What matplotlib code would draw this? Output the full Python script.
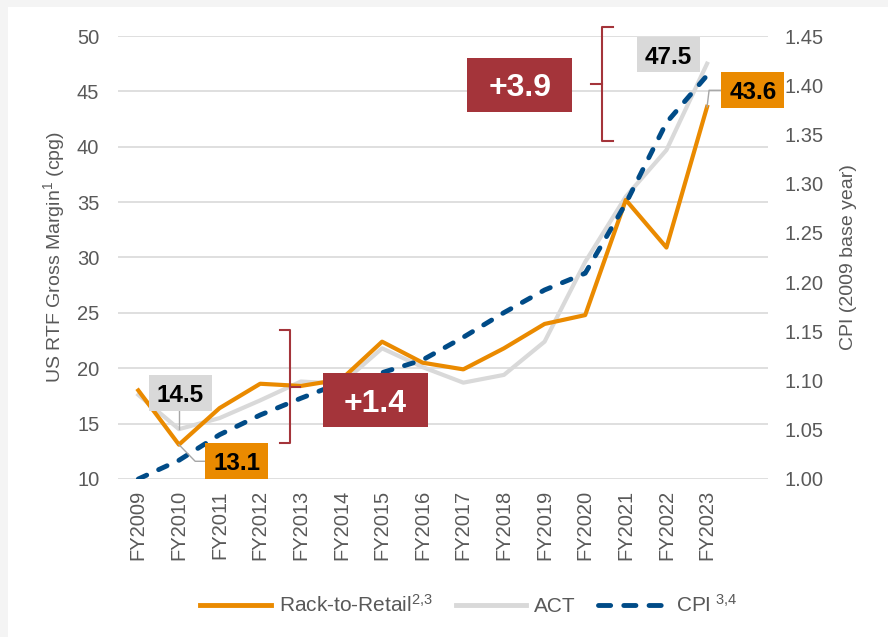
import matplotlib.pyplot as plt
from matplotlib.lines import Line2D
from matplotlib.patches import Rectangle

plt.rcParams['font.family'] = ['Liberation Sans', 'DejaVu Sans']
plt.rcParams['mathtext.fontset'] = 'custom'
plt.rcParams['mathtext.rm'] = 'Liberation Sans'
plt.rcParams['mathtext.it'] = 'Liberation Sans'

# Data
years = ['FY2009', 'FY2010', 'FY2011', 'FY2012', 'FY2013', 'FY2014', 'FY2015', 'FY2016',
         'FY2017', 'FY2018', 'FY2019', 'FY2020', 'FY2021', 'FY2022', 'FY2023']
rack_to_retail = [18.0, 13.1, 16.4, 18.6, 18.4, 19.0, 22.4, 20.5, 19.9, 21.8, 24.0, 24.8, 35.2, 30.9, 43.6]
act = [17.6, 14.5, 15.5, 17.1, 18.8, 18.6, 21.8, 20.1, 18.7, 19.4, 22.4, 29.6, 35.5, 39.7, 47.5]
cpi = [1.000, 1.019, 1.045, 1.065, 1.082, 1.098, 1.108, 1.121, 1.144, 1.169, 1.192, 1.209, 1.280, 1.362, 1.410]

ORANGE = '#EA8A00'
GREY = '#D9D9D9'
BLUE = '#004B87'
RED = '#A4343A'
TXT = '#595959'

fig = plt.figure(figsize=(8.88, 6.37), dpi=100)
fig.patch.set_facecolor('#F4F4F4')
fig.add_artist(Rectangle((8/888, 0), 1, 1 - 7/637, transform=fig.transFigure,
                         facecolor='white', edgecolor='none', zorder=0))

ax = fig.add_axes([118/888, 1 - 479/637, 650/888, 443/637])
ax2 = ax.twinx()
x = list(range(len(years)))

ax.plot(x, act, color=GREY, lw=3.0, zorder=3)
ax.plot(x, rack_to_retail, color=ORANGE, lw=3.0, zorder=4)
ax2.plot(x, cpi, color=BLUE, lw=3.5, ls=(0, (1.9, 2.7)), dash_capstyle='round', zorder=5)

ax.set_xlim(-0.5, 15.5)
ax.set_ylim(10, 50)
ax.set_yticks(range(10, 51, 5))
ax2.set_ylim(1.0, 1.45)
ax2.set_yticks([1.0 + 0.05 * i for i in range(10)])
ax2.set_yticklabels(['%.2f' % (1.0 + 0.05 * i) for i in range(10)])
ax.set_xticks(x)
ax.set_xticklabels(years, rotation=90)
ax.grid(axis='y', color=GREY, lw=1.2)
ax.set_axisbelow(True)
for a in (ax, ax2):
    for s in a.spines.values():
        s.set_visible(False)
    a.tick_params(length=0, labelsize=14.5, labelcolor=TXT)
ax.tick_params(axis='y', pad=13.5)
ax.tick_params(axis='x', pad=8)
ax2.tick_params(axis='y', pad=12)

ax.set_ylabel('US RTF Gross Margin$^{1}$ (cpg)', fontsize=14, color=TXT)
ax.yaxis.set_label_coords(-0.078, 0.5)
ax2.set_ylabel('CPI (2009 base year)', fontsize=14, color=TXT)
ax2.yaxis.set_label_coords(1.11, 0.5)

# annotations (drawn on top axes, in left-axis data coordinates)
tr = ax.transData
px_x = 1 / 40.6
px_y = 1 / 11.075


def box(xc, yc, wpx, hpx, fc, label, fs, tc):
    w, h = wpx * px_x, hpx * px_y
    ax2.add_patch(Rectangle((xc - w / 2, yc - h / 2), w, h, transform=tr,
                            facecolor=fc, edgecolor='none', zorder=8, clip_on=False))
    ax2.text(xc, yc, label, transform=tr, ha='center', va='center_baseline',
             fontsize=fs, fontweight='bold', color=tc, zorder=9, clip_on=False)


def line(xs, ys, color, lw):
    ax2.add_line(Line2D(xs, ys, transform=tr, color=color, lw=lw, zorder=7, clip_on=False))


# leader lines
line([1.0, 1.0], [14.5, 16.1], '#A6A6A6', 1.0)
line([1.0, 1.4, 1.65], [13.1, 11.6, 11.6], '#A6A6A6', 1.0)
line([14.0, 14.05, 14.35], [43.6, 45.1, 45.1], '#A6A6A6', 1.0)

box(1.04, 17.75, 63, 36, GREY, '14.5', 17.5, 'black')
box(2.42, 11.6, 63, 36, ORANGE, '13.1', 17.5, 'black')
box(13.05, 48.3, 63, 35, GREY, '47.5', 17.5, 'black')
box(15.13, 45.1, 63, 36, ORANGE, '43.6', 17.5, 'black')
box(5.84, 17.1, 105, 54, RED, '+1.4', 23, 'white')
box(9.39, 45.6, 105, 54, RED, '+3.9', 23, 'white')

# braces
line([3.49, 3.74, 3.74, 3.49], [23.45, 23.45, 13.25, 13.25], RED, 1.5)
line([3.74, 3.98], [18.3, 18.3], RED, 1.5)
line([11.69, 11.42, 11.42, 11.69], [50.8, 50.8, 40.5, 40.5], RED, 1.5)
line([11.42, 11.15], [45.7, 45.7], RED, 1.5)

handles = [Line2D([], [], color=ORANGE, lw=3.5),
           Line2D([], [], color=GREY, lw=3.5),
           Line2D([], [], color=BLUE, lw=3.5, ls=(0, (2.5, 2.7)), dash_capstyle='round')]
labels = ['Rack-to-Retail$^{2{,}3}$', 'ACT', 'CPI$^{\\ 3{,}4}$']
leg = fig.legend(handles, labels, loc='center', bbox_to_anchor=(0.528, 1 - 605/637), ncol=3,
                 frameon=False, fontsize=15, handlelength=3.4, columnspacing=1.1,
                 handletextpad=0.35)
for t in leg.get_texts():
    t.set_color(TXT)

fig.savefig('out.png', dpi=100)
